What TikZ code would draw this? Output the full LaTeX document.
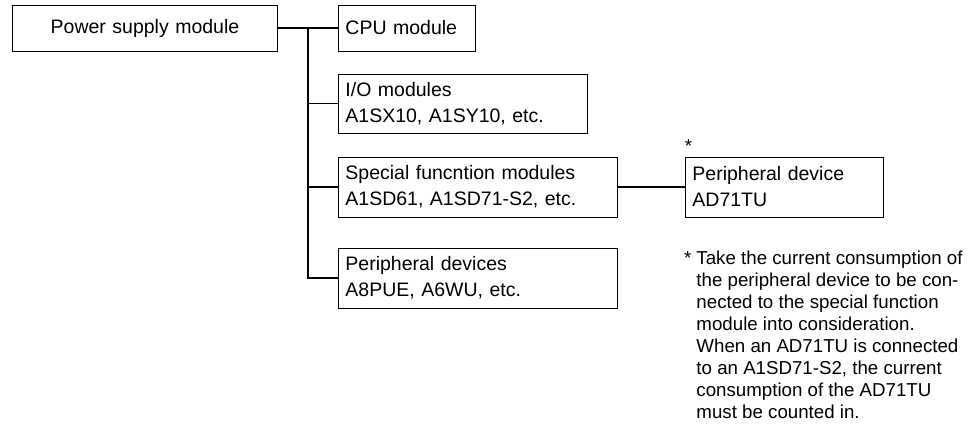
\documentclass[tikz,border=0pt]{standalone}
\usepackage{fontspec}
\setmainfont{Liberation Sans}
\usetikzlibrary{calc}

\begin{document}
\begin{tikzpicture}[x=1pt, y=1pt,
  unit/.style={draw, line width=0.9pt, anchor=west, align=left, inner xsep=7pt, inner ysep=0pt,
    font=\fontsize{19.5}{26}\selectfont},
  wire/.style={line width=1.2pt}]
\useasboundingbox (0,0) rectangle (975,427);
\node[unit, align=center, text width=251, minimum height=46] (psu)  at (12,399)    {Power supply module};
\node[unit, text width=123, minimum height=46] (cpu)  at (338,399)   {CPU module};
\node[unit, text width=235, minimum height=59] (io)   at (338,323.5) {I/O modules\\A1SX10, A1SY10, etc.};
\node[unit, text width=265, minimum height=60] (sfm)  at (338,240)   {Special funcntion modules\\A1SD61, A1SD71-S2, etc.};
\node[unit, text width=265, minimum height=60] (pdev) at (338,149)   {Peripheral devices\\A8PUE, A6WU, etc.};
\node[unit, text width=184, minimum height=60] (ad71) at (685,240)   {Peripheral device\\AD71TU};
\node[font=\fontsize{18.7}{22}\selectfont, inner sep=0] (astk) at ([xshift=3.5, yshift=-8]ad71.north west |- 0,289) {*};
\coordinate (tap) at ($(psu.east)!0.5!(cpu.west)$);
\draw[wire] (psu.east) -- (cpu.west);
\draw[wire] (tap) |- (pdev.west);
\foreach \n in {io, sfm} {
 \draw[wire] (tap |- \n.west) -- (\n.west);
}
\draw[wire] (sfm.east) -- (ad71.west);
\node[anchor=north west, inner sep=0, font=\fontsize{18.7}{22}\selectfont] (note) at (684,178) {%
\begin{tabular}{@{}l@{\hspace{5pt}}l@{}}
* & Take the current consumption of\\
  & the peripheral device to be con-\\
  & nected to the special function\\
  & module into consideration.\\
  & When an AD71TU is connected\\
  & to an A1SD71-S2, the current\\
  & consumption of the AD71TU\\
  & must be counted in.
\end{tabular}};
\end{tikzpicture}
\end{document}
